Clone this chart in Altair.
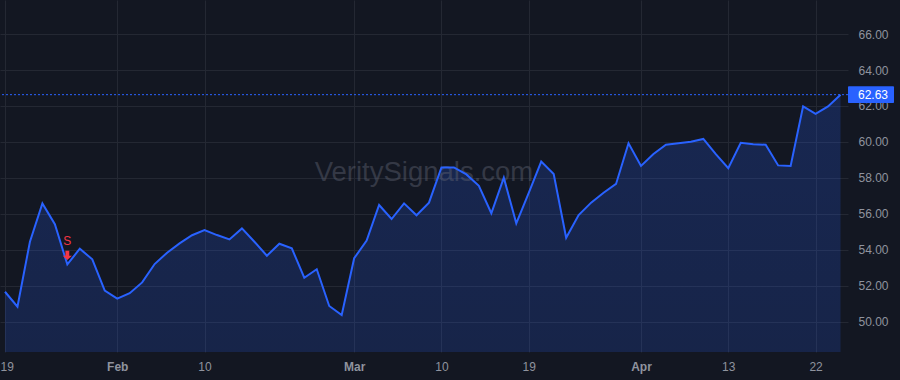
import altair as alt
import pandas as pd

# ---- data ----
dates = pd.bdate_range("2021-01-19", "2021-04-26")
holidays = {"2021-02-15", "2021-04-02"}
dates = [d.strftime("%Y-%m-%d") for d in dates if d.strftime("%Y-%m-%d") not in holidays]

values = [51.68, 50.85, 54.46, 56.59, 55.43, 53.20, 54.07, 53.48, 51.74, 51.30,
          51.60, 52.20, 53.22, 53.85, 54.37, 54.82, 55.11, 54.83, 54.59, 55.20,
          54.46, 53.68, 54.35, 54.09, 52.46, 52.93, 50.89, 50.39, 53.54, 54.52,
          56.50, 55.72, 56.59, 55.93, 56.63, 58.59, 58.59, 58.20, 57.57, 56.04,
          58.02, 55.48, 57.18, 58.91, 58.22, 54.68, 55.94, 56.63, 57.18, 57.67,
          59.93, 58.67, 59.33, 59.85, 59.93, 60.02, 60.17, 59.33, 58.54, 59.96,
          59.87, 59.85, 58.70, 58.67, 61.98, 61.56, 61.98, 62.63]

tick_idx = [0, 9, 16, 28, 35, 42, 51, 58, 65]
tick_text = ["19", "Feb", "10", "Mar", "10", "19", "Apr", "13", "22"]
y_ticks = [50, 52, 54, 56, 58, 60, 62, 64, 66]

signal_idx = [5]
signal_text = ["S"]

watermark = "VeritySignals.com"

# ---- styling ----
BG = "#131722"
GRID = "#242833"
LINE = "#2962ff"
LABEL = "#8f939e"
RED = "#f23645"
FONT = "Liberation Sans"

W, H = 848, 352

df = pd.DataFrame({"i": list(range(len(values))), "date": dates[:len(values)], "v": values})
last = pd.DataFrame({"i": [len(values) - 1], "v": [values[-1]], "txt": [f"{values[-1]:.2f}"]})
sig = pd.DataFrame({"i": signal_idx, "v": [values[k] for k in signal_idx], "txt": signal_text})

month_idx = [t for t, s in zip(tick_idx, tick_text) if s.isalpha()]
label_expr = "[" + ",".join(f"'{s}'" for s in tick_text) + "][indexof([" + ",".join(map(str, tick_idx)) + "], datum.value)]"

xscale = alt.Scale(domain=[-0.4, 67.6], nice=False, zero=False)
yscale = alt.Scale(domain=[48.333, 67.889], nice=False, zero=False)

x_enc = alt.X("i:Q", scale=xscale, title=None,
              axis=alt.Axis(values=tick_idx, labelExpr=label_expr, grid=True, gridColor=GRID,
                            domain=False, ticks=False, labelColor=LABEL, labelFontSize=12,
                            labelFont=FONT, labelPadding=9, labelFlush=6, labelFlushOffset=5,
                            labelFontWeight={"condition": {"test": "indexof([" + ",".join(map(str, month_idx)) + "], datum.value) >= 0",
                                                           "value": "bold"}, "value": "normal"}))
y_enc = alt.Y("v:Q", scale=yscale, title=None,
              axis=alt.Axis(orient="right", values=y_ticks, format=".2f", grid=True, gridColor=GRID,
                            domain=False, ticks=False, labelColor=LABEL, labelFontSize=12,
                            labelFont=FONT, labelPadding=10))

base = alt.Chart(df)

area = base.mark_area(
    clip=True,
    color=alt.Gradient(gradient="linear",
                       stops=[alt.GradientStop(color="rgba(41,98,255,0.21)", offset=0),
                              alt.GradientStop(color="rgba(41,98,255,0.06)", offset=1)],
                       x1=1, x2=1, y1=0, y2=1)
).encode(x=x_enc, y=y_enc)

line = base.mark_line(color=LINE, strokeWidth=2).encode(x=x_enc, y=y_enc)

wm = alt.Chart(pd.DataFrame({"t": [watermark]})).mark_text(
    font=FONT, fontSize=27.5, color="#5d6170", opacity=0.45, align="center", baseline="middle"
).encode(x=alt.value(W / 2), y=alt.value(H / 2 - 3), text="t:N")

rule = alt.Chart(last).mark_rule(color=LINE, strokeWidth=1, strokeDash=[2, 2]).encode(y=y_enc)

box = alt.Chart(last).transform_calculate(
    lo="datum.v - 0.47", hi="datum.v + 0.47"
).mark_rect(color=LINE, cornerRadius=1).encode(
    x=alt.value(W), x2=alt.value(W + 46), y=alt.Y("lo:Q", scale=yscale), y2="hi:Q")

box_txt = alt.Chart(last).mark_text(
    font=FONT, fontSize=12, color="white", align="left", baseline="middle"
).encode(x=alt.value(W + 10), y=alt.Y("v:Q", scale=yscale), text="txt:N")

sig_txt = alt.Chart(sig).mark_text(
    font=FONT, fontSize=12, color=RED, align="center", baseline="middle", dy=-23
).encode(x=alt.X("i:Q", scale=xscale), y=alt.Y("v:Q", scale=yscale), text="txt:N")

sig_arrow = alt.Chart(sig).mark_point(
    shape="M-0.42,-1L0.42,-1L0.42,0.05L1,0.05L0,1L-1,0.05L-0.42,0.05Z", filled=True, color=RED,
    opacity=1, size=85, yOffset=-9
).encode(x=alt.X("i:Q", scale=xscale), y=alt.Y("v:Q", scale=yscale))

chart = alt.layer(area, wm, line, rule, box, box_txt, sig_txt, sig_arrow).properties(
    width=W, height=H,
    autosize=alt.AutoSizeParams(type="none"),
    padding={"left": 0, "top": 0, "right": 52, "bottom": 28},
    background=BG,
).configure_view(stroke=None)

chart.save("out.html", embed_options={"renderer": "svg", "actions": False})
